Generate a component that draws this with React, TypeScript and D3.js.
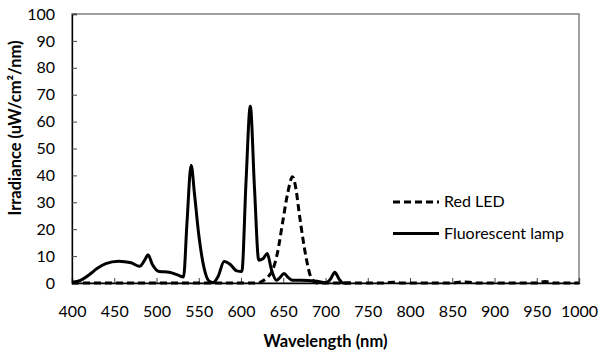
import { useEffect, useRef } from "react";
import * as d3 from "d3";

// Fluorescent lamp spectrum (nm, uW/cm²/nm)
const lampNm = [400, 410, 420, 430, 440, 455, 470, 480, 486, 490, 495, 503, 515, 525, 532, 536, 541, 545, 550, 556, 562, 567, 573, 580, 587, 595, 601, 606, 611, 616, 621, 626, 631, 636, 642, 646, 651, 656, 661, 670, 680, 690, 700, 706, 711, 716, 721, 730];
const lampVal = [0.3, 1, 3, 5.5, 7.2, 8.1, 7.5, 6.2, 8.5, 10.5, 7, 4.3, 4, 3, 2.2, 22, 43.8, 33, 18, 6, 0.8, 0.2, 2.5, 8, 7, 4.5, 4.3, 38, 65.7, 35, 8.5, 9, 11, 5, 1, 2, 3.5, 2, 1, 1, 0.9, 0.7, 0.1, 1.5, 4, 1.5, 0, 0];

// Red LED spectrum
const ledNm = [400, 500, 600, 620, 626, 631, 637, 643, 649, 655, 661, 665, 669, 673, 677, 683, 690, 700, 770, 780, 790, 850, 860, 870, 880, 950, 960, 970, 1000];
const ledVal = [0, 0, 0, 0, 0.8, 2, 4.5, 11, 22, 33, 39.5, 35, 25.7, 17, 9.5, 2, 0, 0, 0, 0.3, 0, 0, 0.4, 0.3, 0, 0, 0.6, 0, 0];

const xTicks = d3.range(400, 1001, 50);
const yTicks = d3.range(0, 101, 10);

const series = [
  { name: "Red LED", nm: ledNm, val: ledVal, dash: "7,4" },
  { name: "Fluorescent lamp", nm: lampNm, val: lampVal, dash: null },
];

const FONT = "Lato, 'Open Sans', sans-serif";

export default function App() {
  const svgRef = useRef<SVGSVGElement>(null);

  useEffect(() => {
    const svg = d3.select(svgRef.current);
    svg.selectAll("*").remove();

    const width = 599, height = 354;
    const margin = { top: 14, right: 20, bottom: 71, left: 72 };
    const W = width - margin.left - margin.right;
    const H = height - margin.top - margin.bottom;

    const x = d3.scaleLinear().domain([400, 1000]).range([0, W]);
    const y = d3.scaleLinear().domain([0, 100]).range([H, 0]);

    const g = svg.append("g").attr("transform", `translate(${margin.left},${margin.top})`);

    // frame
    g.append("rect").attr("x", 0).attr("y", 0).attr("width", W).attr("height", H)
      .attr("fill", "none").attr("stroke", "#6f6f6f").attr("stroke-width", 1.3);

    // x axis (ticks point inward)
    g.append("g").attr("transform", `translate(0,${H})`)
      .call(d3.axisBottom(x).tickValues(xTicks).tickSize(-5).tickPadding(23).tickFormat(d3.format("d")))
      .call(ax => ax.select(".domain").attr("stroke", "#000").attr("stroke-width", 1.3))
      .call(ax => ax.selectAll(".tick line").attr("stroke", "#444"))
      .call(ax => ax.selectAll(".tick text").attr("fill", "#000").attr("font-size", 16).attr("font-family", FONT));

    // y axis
    g.append("g")
      .call(d3.axisLeft(y).tickValues(yTicks).tickSize(-5).tickPadding(17))
      .call(ax => ax.select(".domain").attr("stroke", "#000").attr("stroke-width", 1.3))
      .call(ax => ax.selectAll(".tick line").attr("stroke", "#444"))
      .call(ax => ax.selectAll(".tick text").attr("fill", "#000").attr("font-size", 16).attr("font-family", FONT));

    const line = d3.line<[number, number]>()
      .x(d => x(d[0]))
      .y(d => y(d[1]))
      .curve(d3.curveMonotoneX);

    series.forEach(s => {
      const pts = s.nm.map((n, i) => [n, s.val[i]] as [number, number]);
      g.append("path").datum(pts).attr("d", line)
        .attr("fill", "none").attr("stroke", "#000").attr("stroke-width", 3)
        .attr("stroke-linejoin", "round")
        .attr("stroke-dasharray", s.dash ?? null);
    });

    // legend
    series.forEach((s, i) => {
      const ly = 188 + i * 31.5;
      g.append("line").attr("x1", 321).attr("x2", 367).attr("y1", ly).attr("y2", ly)
        .attr("stroke", "#000").attr("stroke-width", 3)
        .attr("stroke-dasharray", s.dash ?? null);
      g.append("text").attr("x", 372).attr("y", ly + 5)
        .attr("font-size", 16)
        .attr("font-family", FONT).attr("fill", "#000").text(s.name);
    });

    // axis titles
    svg.append("text")
      .attr("x", margin.left + W / 2).attr("y", 346.5)
      .attr("text-anchor", "middle").attr("font-size", 16.5).attr("font-weight", "bold")
      .attr("font-family", FONT).text("Wavelength (nm)");
    svg.append("text")
      .attr("transform", `translate(21,128) rotate(-90)`)
      .attr("text-anchor", "middle").attr("font-size", 16.5).attr("font-weight", "bold")
      .attr("font-family", FONT).text("Irradiance (uW/cm²/nm)");
  }, []);

  return (
    <svg ref={svgRef} width={599} height={354}
      style={{ position: "absolute", left: 0, top: 0, background: "#fff" }} />
  );
}
